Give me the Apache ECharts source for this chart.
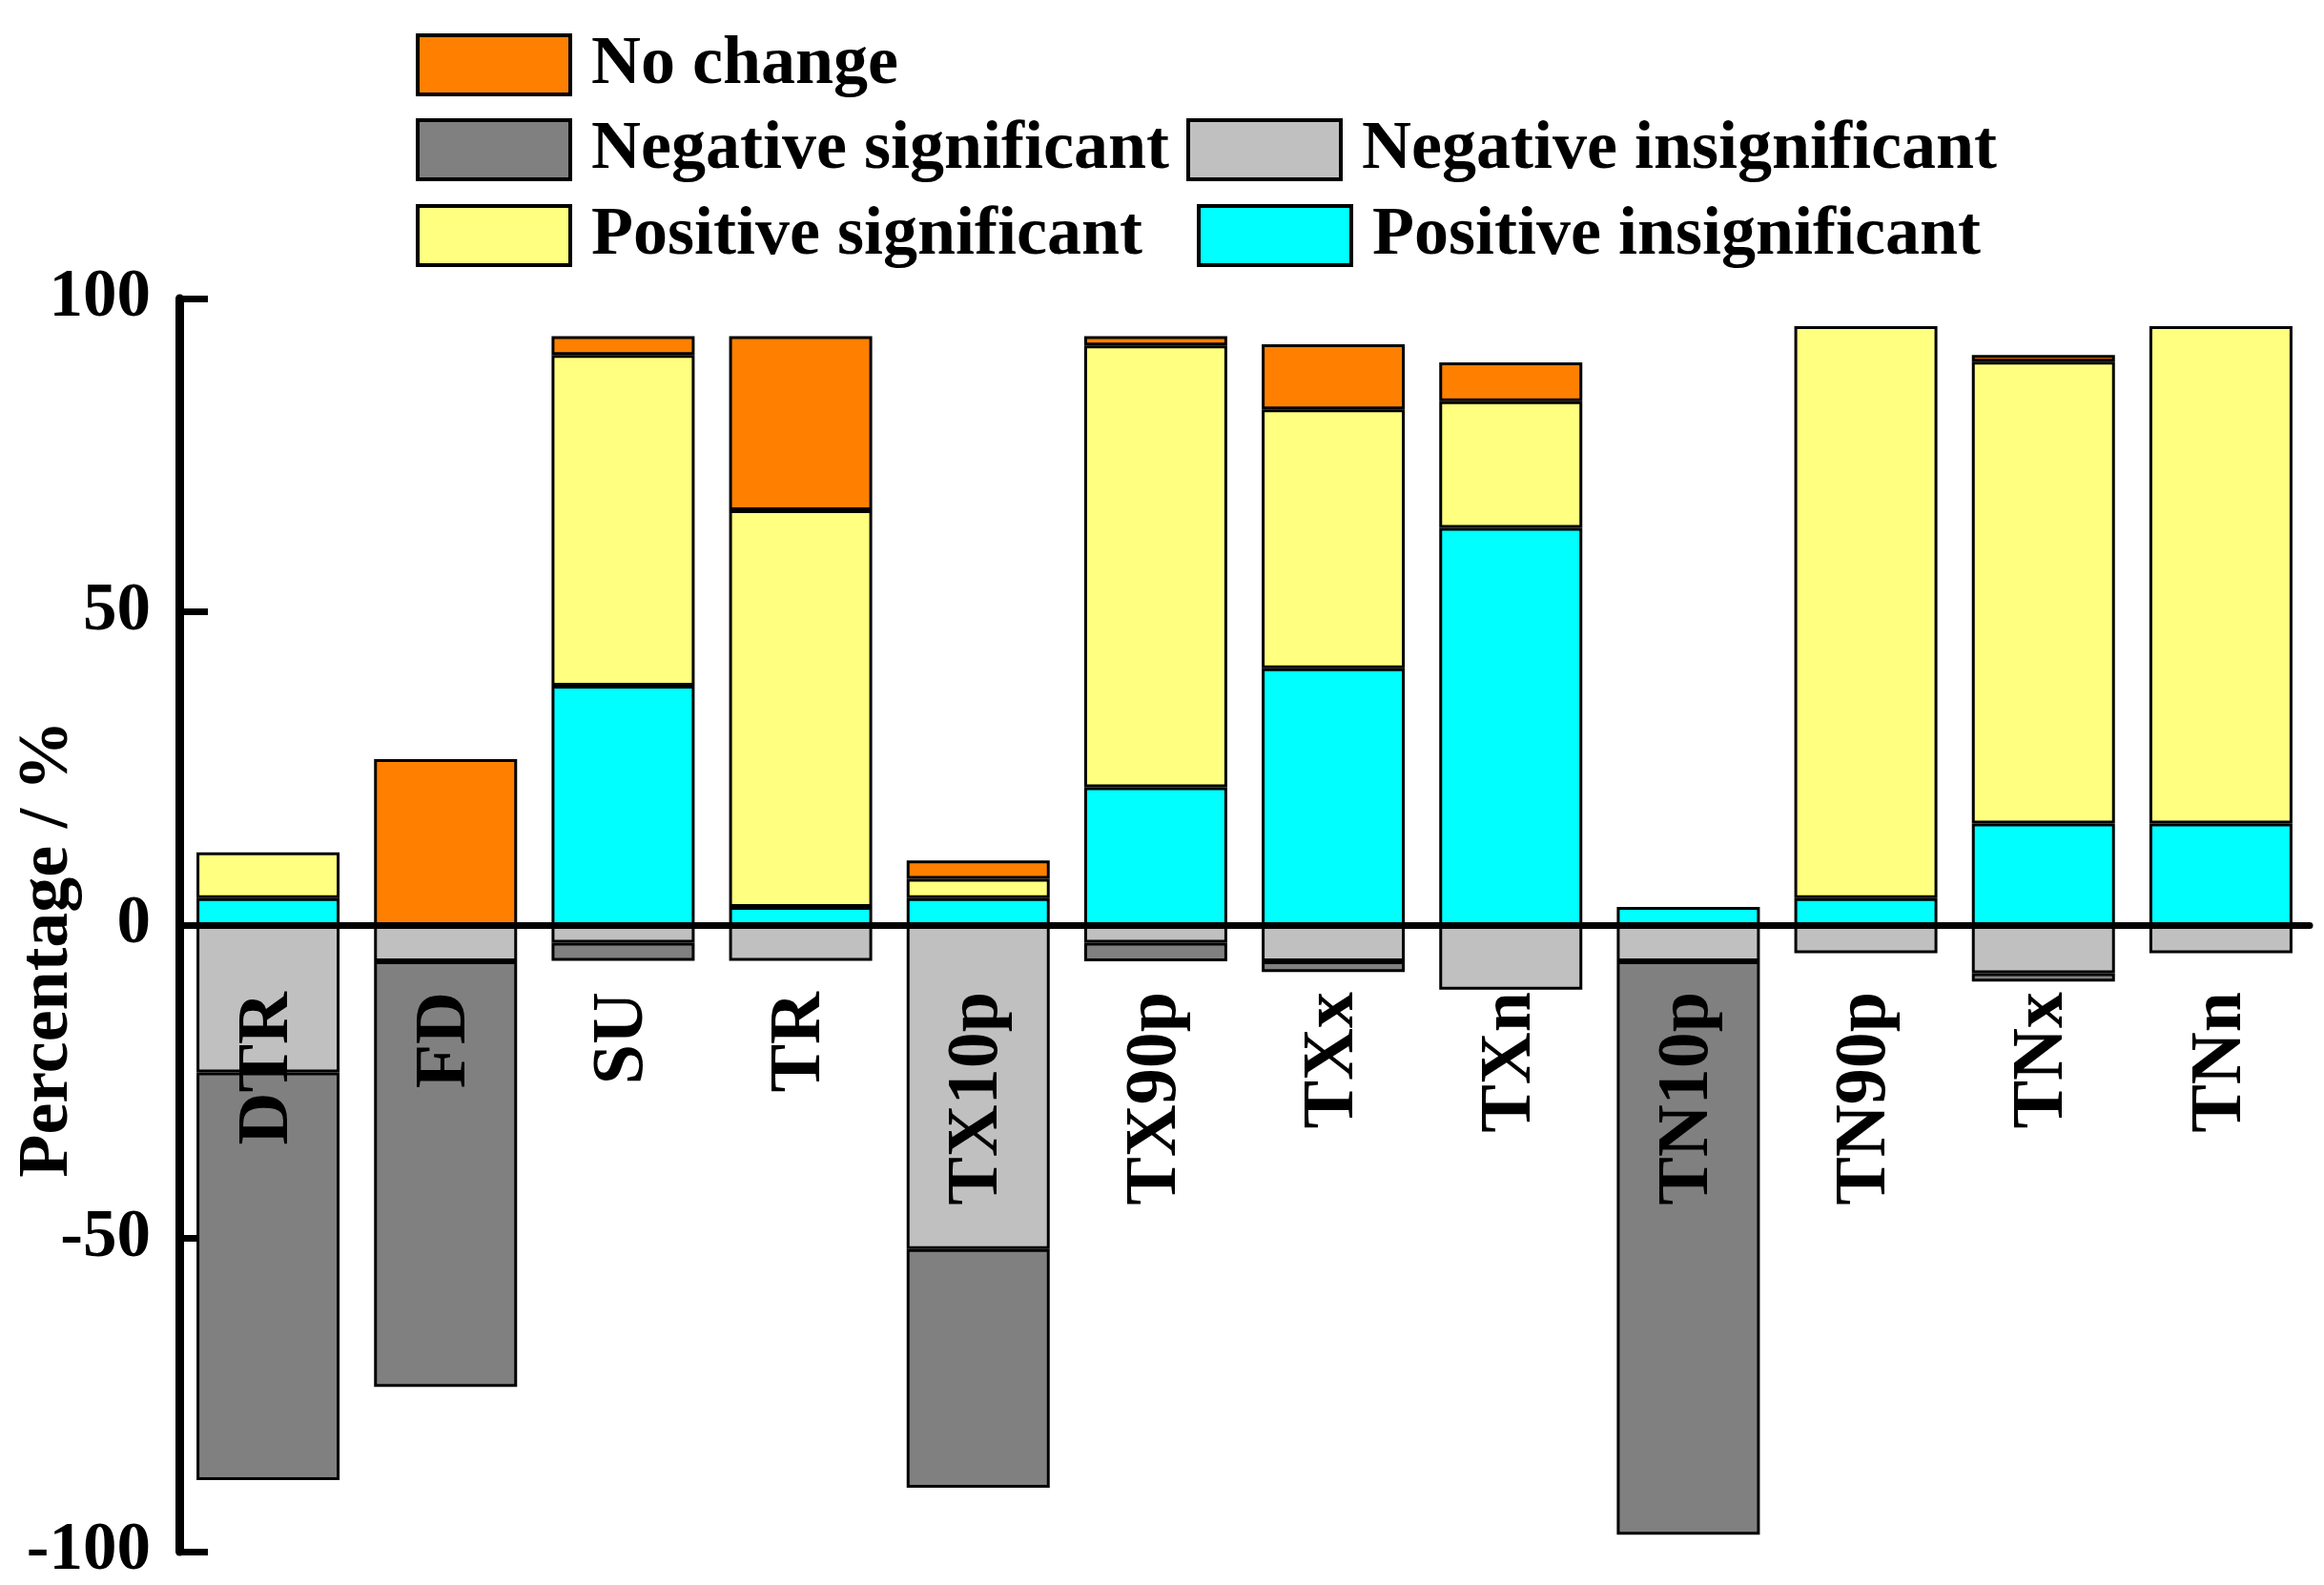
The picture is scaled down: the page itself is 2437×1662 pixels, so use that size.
<!DOCTYPE html>
<html>
<head>
<meta charset="utf-8">
<title>Trend percentage</title>
<script src="https://cdn.jsdelivr.net/npm/echarts@6/dist/echarts.min.js"></script>
<style>
  html, body { margin: 0; padding: 0; background: #fff; }
  #chart { width: 2437px; height: 1662px; }
</style>
</head>
<body>
<div id="chart"></div>
<script>
// indices on the x axis
var categories = ['DTR', 'FD', 'SU', 'TR', 'TX10p', 'TX90p', 'TXx', 'TXn', 'TN10p', 'TN90p', 'TNx', 'TNn'];

// percentages (null = no segment)
var posInsig  = [4.3, null, 38.2, 2.9, 4.3, 22.0, 41.0, 63.4, 2.9, 4.3, 16.2, 16.2];
var posSig    = [7.3, null, 52.8, 63.3, 3.1, 70.5, 41.3, 20.2, null, 91.3, 73.7, 79.4];
var noChange  = [null, 26.5, 3.0, 27.8, 2.9, 1.5, 10.4, 6.2, null, null, 1.1, null];
var negInsig  = [-23.5, -5.8, -2.8, -5.7, -51.7, -2.8, -5.8, -10.3, -5.8, -4.5, -7.7, -4.5];
var negSig    = [-65.1, -67.9, -2.9, null, -38.1, -3.0, -1.7, null, -91.5, null, -1.3, null];

var yTicks = [-100, -50, 0, 50, 100];

var font = "'Liberation Serif', 'Times New Roman', serif";

// grid box in px
var gridTop = 313, gridBottom = 35;
var plotH = 1662 - gridTop - gridBottom;
// move the category axis (line + labels) up to y = 0
var zeroOffset = -plotH * (0 - yTicks[0]) / (yTicks[yTicks.length - 1] - yTicks[0]);

function barSeries(name, data, color) {
  return {
    name: name,
    type: 'bar',
    stack: 'total',
    data: data,
    barWidth: 150,
    itemStyle: { color: color, borderColor: '#000', borderWidth: 3 }
  };
}

function legendAt(name, left, top) {
  return {
    data: [name],
    left: left,
    top: top,
    icon: 'rect',
    itemWidth: 160,
    itemHeight: 62,
    selectedMode: false,
    itemStyle: { borderColor: '#000', borderWidth: 4 },
    textStyle: {
      fontFamily: font, fontWeight: 'bold', fontSize: 72,
      color: '#000', lineHeight: 62, padding: [0, 0, 0, 17]
    }
  };
}

var chart = echarts.init(document.getElementById('chart'));
chart.setOption({
  backgroundColor: '#fff',
  animation: false,
  legend: [
    legendAt('No change', 431, 27),
    legendAt('Negative significant', 431, 116),
    legendAt('Negative insignificant', 1239, 116),
    legendAt('Positive significant', 431, 206),
    legendAt('Positive insignificant', 1250, 206)
  ],
  grid: { left: 188, right: 15, top: gridTop, bottom: gridBottom, containLabel: false, outerBoundsMode: 'none' },
  xAxis: {
    type: 'category',
    data: categories,
    z: 10,
    offset: zeroOffset,
    axisLine: { onZero: false, lineStyle: { color: '#000', width: 7 } },
    axisTick: { show: false },
    axisLabel: {
      interval: 0, rotate: 90, margin: 70,
      fontFamily: font, fontWeight: 'bold', fontSize: 76, color: '#000'
    }
  },
  yAxis: {
    type: 'value',
    min: yTicks[0],
    max: yTicks[yTicks.length - 1],
    interval: 50,
    name: 'Percentage / %',
    nameLocation: 'middle',
    nameGap: 100,
    nameMoveOverlap: false,
    nameTextStyle: {
      fontFamily: font, fontWeight: 'bold', fontSize: 74, color: '#000',
      padding: [0, 50, 0, 0]
    },
    splitLine: { show: false },
    axisLine: { show: true, lineStyle: { color: '#000', width: 9 } },
    axisTick: { show: true, inside: true, length: 30, lineStyle: { color: '#000', width: 7 } },
    axisLabel: {
      margin: 30,
      fontFamily: font, fontWeight: 'bold', fontSize: 71, color: '#000'
    }
  },
  series: [
    barSeries('Positive insignificant', posInsig, '#00FFFF'),
    barSeries('Positive significant', posSig, '#FFFF80'),
    barSeries('No change', noChange, '#FF8000'),
    barSeries('Negative insignificant', negInsig, '#C0C0C0'),
    barSeries('Negative significant', negSig, '#808080')
  ]
});
</script>
</body>
</html>
